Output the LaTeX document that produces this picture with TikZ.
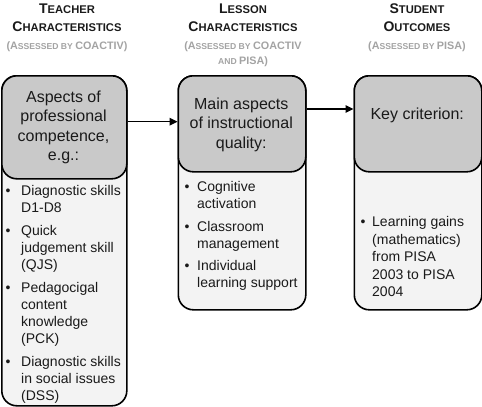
\documentclass[tikz,border=0pt]{standalone}
\usepackage{fontspec}
\setmainfont{Liberation Sans}
\usetikzlibrary{arrows.meta}
\definecolor{hdrfill}{HTML}{C9C9C9}
\definecolor{bodyfill}{HTML}{F3F3F3}
\definecolor{subgray}{HTML}{A3A3A3}
\definecolor{ink}{HTML}{1A1A1A}
\newcommand\tsc[2]{{\fontsize{14}{16}\selectfont #1}{\fontsize{11.2}{14}\selectfont #2}}
\newcommand\ssc[2]{{\fontsize{10.8}{13}\selectfont #1}{\fontsize{8.6}{11}\selectfont #2}}
\begin{document}
\begin{tikzpicture}[x=1pt,y=-1pt,
  outerbox/.style={draw=black, line width=1.6pt, fill=bodyfill, rounded corners=15pt, inner sep=0pt, anchor=north west},
  hdrbox/.style={draw=black, line width=1.6pt, fill=hdrfill, rounded corners=15pt, inner sep=0pt, anchor=north west},
  title/.style={font=\bfseries, text=ink, inner sep=0pt, anchor=base},
  subtitle/.style={font=\bfseries, text=subgray, inner sep=0pt, anchor=base},
  htext/.style={font=\fontsize{16}{19}\selectfont, text=ink, inner sep=0pt, anchor=base},
  btext/.style={font=\fontsize{14}{17}\selectfont, text=ink, inner sep=0pt, anchor=base west},
  arr/.style={line width=1.4pt, -{Triangle[length=8pt,width=7.5pt]}}
]
\useasboundingbox (0,0) rectangle (482,407);

% boxes
\node[outerbox, minimum width=125pt, minimum height=330pt] (o1) at (1,75) {};
\node[hdrbox, minimum width=125pt, minimum height=103pt] (h1) at (1,75) {};
\node[outerbox, minimum width=127.5pt, minimum height=234pt] (o2) at (177.5,75) {};
\node[hdrbox, minimum width=127.5pt, minimum height=96pt] (h2) at (177.5,75) {};
\node[outerbox, minimum width=127.5pt, minimum height=234pt] (o3) at (353.5,75) {};
\node[hdrbox, minimum width=127.5pt, minimum height=96pt] (h3) at (353.5,75) {};

% arrows
\coordinate (a1) at (0,121.7);
\coordinate (a2) at (0,109);
\draw[arr] (h1.east |- a1) -- (h2.west |- a1);
\draw[arr] (h2.east |- a2) -- (h3.west |- a2);

% column titles
\node[title] (t1a) at (67,13) {\tsc{T}{EACHER}};
\node[title] (t1b) at (67,31) {\tsc{C}{HARACTERISTICS}};
\node[subtitle] (s1a) at (67,49.5) {\ssc{(A}{SSESSED BY }\ssc{COACTIV)}{}};

\node[title] (t2a) at (243,13) {\tsc{L}{ESSON}};
\node[title] (t2b) at (243,31) {\tsc{C}{HARACTERISTICS}};
\node[subtitle] (s2a) at (243,49.5) {\ssc{(A}{SSESSED BY }\ssc{COACTIV}{}};
\node[subtitle] (s2b) at (243,64.5) {\ssc{}{AND }\ssc{PISA)}{}};

\node[title] (t3a) at (417,13) {\tsc{S}{TUDENT}};
\node[title] (t3b) at (417,31) {\tsc{O}{UTCOMES}};
\node[subtitle] (s3a) at (417,49.5) {\ssc{(A}{SSESSED BY }\ssc{PISA)}{}};

% header texts
\node[htext] (k1a) at (63.5,102.7) {Aspects of};
\node[htext] (k1b) at (63.5,121.9) {professional};
\node[htext] (k1c) at (63.5,141.1) {competence,};
\node[htext] (k1d) at (63.5,160.3) {e.g.:};

\node[htext] (k2a) at (241.25,109.3) {Main aspects};
\node[htext] (k2b) at (241.25,128.8) {of instructional};
\node[htext] (k2c) at (241.25,148.3) {quality:};

\node[htext] (k3a) at (417.25,119.3) {Key criterion:};

% bullet lists
\foreach \yy/\tt [count=\i] in {195/Diagnostic skills, 212.5/D1-D8, 235/Quick, 252.5/judgement skill, 269.5/(QJS), 292/Pedagocigal, 309/content, 326/knowledge, 343/(PCK), 366/Diagnostic skills, 383/in social issues, 400.5/(DSS)}
  \node[btext] (l1-\i) at (21,\yy) {\tt};
\foreach \yy [count=\i] in {195,235,292,366}
  \node[btext] (b1-\i) at (5.5,\yy) {\textbullet};

\foreach \yy/\tt [count=\i] in {191.7/Cognitive, 208.5/activation, 231.7/Classroom, 248.5/management, 270/Individual, 287/learning support}
  \node[btext] (l2-\i) at (197,\yy) {\tt};
\foreach \yy [count=\i] in {191.7,231.7,270}
  \node[btext] (b2-\i) at (184.5,\yy) {\textbullet};

\foreach \yy/\tt [count=\i] in {226.7/Learning gains, 244/(mathematics), 261.5/from PISA, 279/2003 to PISA, 296.5/2004}
  \node[btext] (l3-\i) at (372,\yy) {\tt};
\node[btext] (b3-1) at (360.5,226.7) {\textbullet};
\end{tikzpicture}
\end{document}
